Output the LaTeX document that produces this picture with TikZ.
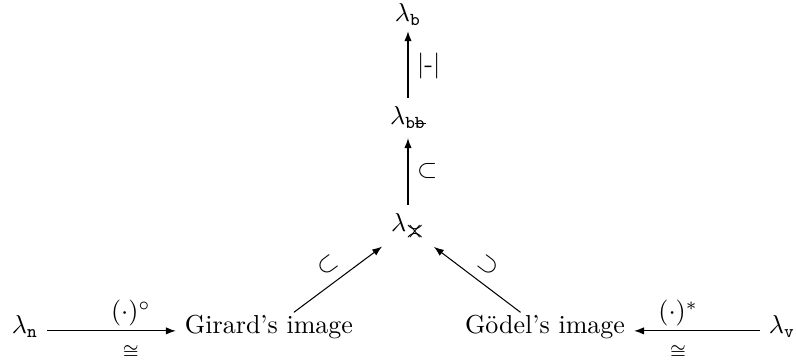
\documentclass[tikz,border=0pt]{standalone}
\usepackage{amsmath,amssymb}
\usepackage{graphicx}
\usepackage{fontspec}
\usetikzlibrary{arrows.meta}
\newcommand{\strikeb}{\rlap{\kern0.03em\rule[0.62ex]{0.56em}{0.3pt}}b}
\newcommand{\crossasymp}{\raisebox{-0.3pt}{\scalebox{1.05}[1.3]{$\scriptstyle\rlap{$\scriptstyle\asymp$}\times$}}}
\begin{document}
\begin{tikzpicture}[x=0.3846pt,y=-0.3846pt,
  arr/.style={-{Latex[length=3.8pt,width=2.8pt]}, line width=0.4pt},
  top/.style={anchor=base, inner sep=3.33pt},
  bot/.style={anchor=base, inner sep=3.33pt, text height=4.8pt, text depth=2.4pt},
  lab/.style={inner sep=3.8pt},
  hlab/.style={anchor=base, inner sep=0pt},
]
\useasboundingbox (0,0) rectangle (796,364);
\node[top] (b) at (408,22) {$\lambda_{\mathtt{b}}$};
\node[top] (bb) at (408,125) {$\lambda_{\text{\ttfamily b\strikeb}}$};
\node[top] (as) at (408,232) {$\lambda_{\crossasymp}$};
\node[bot] (n) at (25,334) {$\lambda_{\mathtt{n}}$};
\node[bot] (g) at (269,334) {Girard's image};
\node[bot] (d) at (545,334) {Gödel's image};
\node[bot] (v) at (782,334) {$\lambda_{\mathtt{v}}$};
\draw[arr, shorten >=-1.5pt] (bb) -- (b) node[midway, right] (l1) {$|\text{-}|$};
\draw[arr] (as) -- (bb) node[midway, right] (l2) {$\subset$};
\draw[arr] (g) -- (as) node[midway, sloped, above, lab] (l3) {$\subset$};
\draw[arr] (d) -- (as) node[midway, sloped, above, lab] (l4) {$\supset$};
\draw[arr] (n) -- (g)
  node[pos=0.65, hlab, yshift=4.3pt] (l5) {$(\cdot)^\circ$}
  node[pos=0.65, hlab, yshift=-10pt] (l6) {$\scriptstyle\cong$};
\draw[arr] (v) -- (d)
  node[pos=0.65, hlab, yshift=4.3pt] (l7) {$(\cdot)^*$}
  node[pos=0.65, hlab, yshift=-10pt] (l8) {$\scriptstyle\cong$};
\end{tikzpicture}
\end{document}
